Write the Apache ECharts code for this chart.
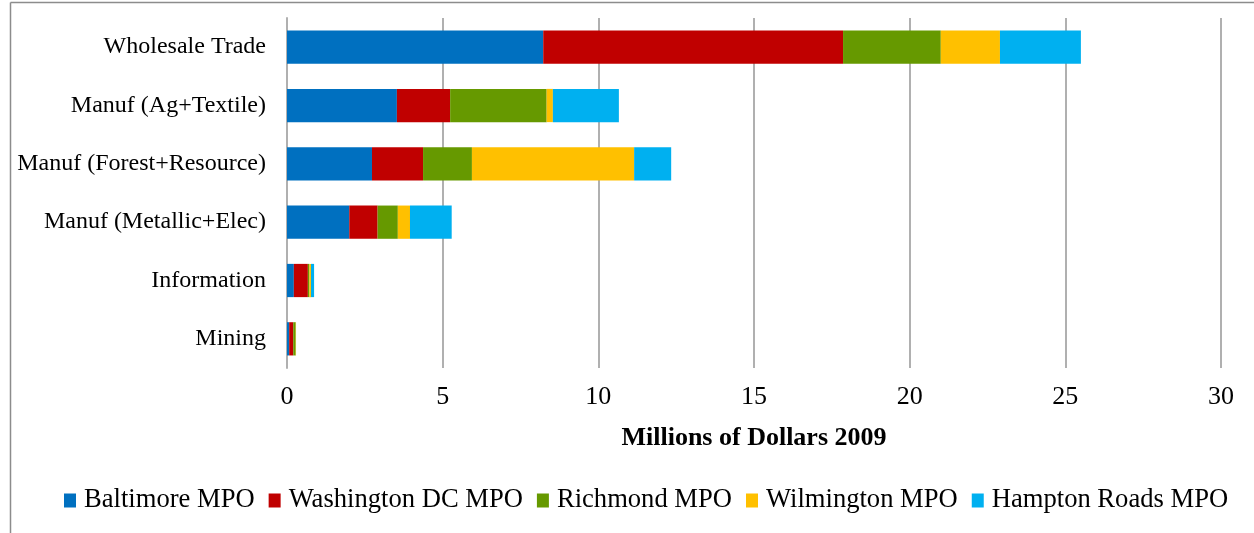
<!DOCTYPE html>
<html>
<head>
<meta charset="utf-8">
<script src="https://cdn.jsdelivr.net/npm/echarts@6/dist/echarts.min.js"></script>
<style>
html,body{margin:0;padding:0;background:#fff;}
#c{width:1254px;height:533px;}
</style>
</head>
<body>
<div id="c"></div>
<script>
const categories = ["Wholesale Trade", "Manuf (Ag+Textile)", "Manuf (Forest+Resource)", "Manuf (Metallic+Elec)", "Information", "Mining"];
const baltimore = [8.23, 3.53, 2.73, 2.00, 0.22, 0.07];
const washington = [9.63, 1.71, 1.64, 0.91, 0.45, 0.13];
const richmond = [3.14, 3.10, 1.57, 0.65, 0.05, 0.08];
const wilmington = [1.90, 0.20, 5.21, 0.39, 0.05, 0.01];
const hampton = [2.60, 2.12, 1.19, 1.34, 0.10, 0.00];
const seriesNames = ["Baltimore MPO", "Washington DC MPO", "Richmond MPO", "Wilmington MPO", "Hampton Roads MPO"];
const seriesData = [baltimore, washington, richmond, wilmington, hampton];
const colors = ["#0070C0", "#C00000", "#669900", "#FFC000", "#00B0F0"];

const font = "'Liberation Serif', 'Times New Roman', serif";
const chart = echarts.init(document.getElementById('c'), null, {renderer: 'canvas'});
chart.setOption({
  animation: false,
  color: colors,
  grid: {left: 287, right: 33, top: 18, height: 350, containLabel: false},
  xAxis: {
    type: 'value', min: 0, max: 30, interval: 5,
    axisLine: {show: false}, axisTick: {show: false},
    splitLine: {show: true, lineStyle: {color: '#b0b0b0', width: 2}},
    axisLabel: {color: '#000', fontFamily: font, fontSize: 26, margin: 16},
    name: 'Millions of Dollars 2009', nameLocation: 'middle', nameGap: 57,
    nameTextStyle: {color: '#000', fontFamily: font, fontSize: 26, fontWeight: 'bold'}
  },
  yAxis: {
    type: 'category', data: categories, inverse: true,
    axisLine: {show: true, lineStyle: {color: '#b0b0b0', width: 2}},
    axisTick: {show: false},
    axisLabel: {color: '#000', fontFamily: font, fontSize: 24, margin: 21}
  },
  legend: {
    left: 64, top: 487, padding: 0, itemWidth: 12, itemHeight: 14, itemGap: 14,
    icon: 'rect',
    textStyle: {color: '#000', fontFamily: font, fontSize: 26.6, padding: [0, 0, 0, 3]},
    data: seriesNames
  },
  graphic: [
    {type: 'line', shape: {x1: 10.5, y1: 2.5, x2: 1254, y2: 2.5}, style: {stroke: '#8c8c8c', lineWidth: 1.5}},
    {type: 'line', shape: {x1: 10.5, y1: 2.5, x2: 10.5, y2: 533}, style: {stroke: '#8c8c8c', lineWidth: 1.5}}
  ],
  series: seriesNames.map((n, i) => ({
    name: n, type: 'bar', stack: 'total', data: seriesData[i],
    barCategoryGap: '43%',
    itemStyle: {color: colors[i]}
  }))
});
</script>
</body>
</html>
